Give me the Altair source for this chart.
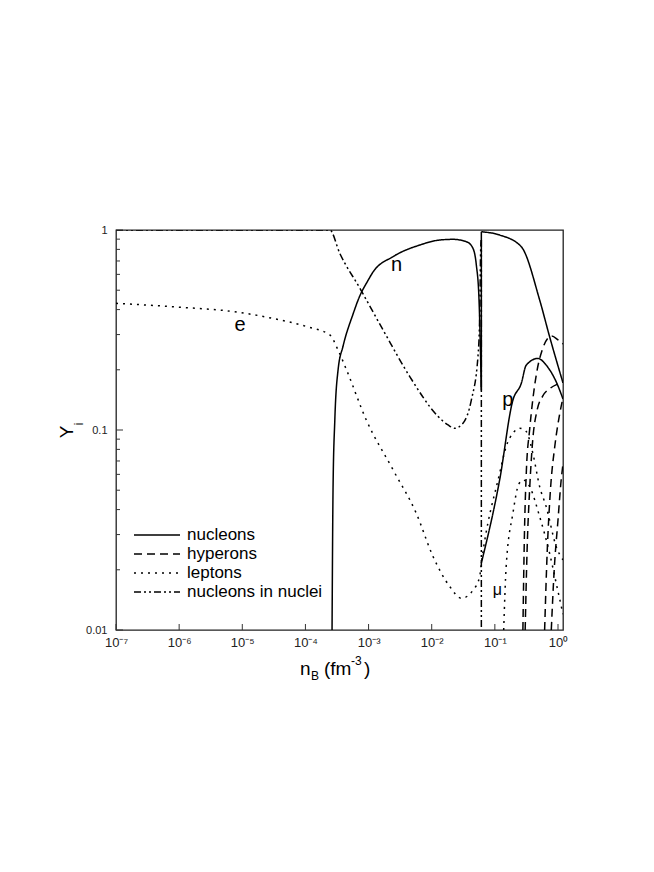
import altair as alt
import pandas as pd

# ---------------- data ----------------
# nucleons: neutrons (n, two branches) and protons (p)
n1_x = [2.64e-4, 2.74e-4, 2.92e-4, 3.29e-4, 3.95e-4, 5.68e-4, 7.26e-4, 9.5e-4, 1.18e-3, 2.44e-3,
        6.46e-3, 0.0134, 0.0217, 0.0354, 0.045, 0.0509, 0.056, 0.0611]
n1_y = [0.010, 0.0521, 0.112, 0.200, 0.263, 0.380, 0.468, 0.550, 0.617, 0.736,
        0.841, 0.891, 0.898, 0.874, 0.810, 0.668, 0.456, 0.158]
njump_x = [0.0611, 0.0611]
njump_y = [0.158, 0.980]
n2_x = [0.0611, 0.119, 0.262, 0.512, 0.736, 1.2]
n2_y = [0.980, 0.944, 0.825, 0.447, 0.293, 0.172]
p_x = [0.0611, 0.119, 0.193, 0.262, 0.314, 0.481, 0.650, 0.938, 1.2]
p_y = [0.0216, 0.0562, 0.141, 0.171, 0.211, 0.228, 0.211, 0.174, 0.143]

# hyperons
h1_x = [0.278, 0.295, 0.316, 0.355, 0.398, 0.468, 0.562, 0.692, 0.794, 1.0, 1.2]
h1_y = [0.010, 0.0316, 0.0631, 0.100, 0.141, 0.200, 0.251, 0.288, 0.295, 0.282, 0.269]
h2_x = [0.302, 0.324, 0.355, 0.398, 0.468, 0.575, 0.759, 1.0, 1.2]
h2_y = [0.010, 0.0251, 0.0501, 0.0891, 0.126, 0.148, 0.162, 0.170, 0.174]
h3_x = [0.614, 0.676, 0.759, 0.891, 1.047, 1.2]
h3_y = [0.010, 0.0251, 0.0501, 0.0832, 0.117, 0.145]
h4_x = [0.783, 0.871, 1.0, 1.122, 1.2]
h4_y = [0.010, 0.020, 0.0355, 0.0562, 0.0676]

# leptons: electrons (e) and muons (mu)
e_x = [1e-7, 1.16e-6, 7.18e-6, 3.09e-5, 1.04e-4, 2.43e-4, 3.29e-4, 4.47e-4, 9.23e-4,
       2.45e-3, 5.7e-3, 0.0105, 0.0193, 0.0295, 0.045, 0.0575, 0.0611, 0.119,
       0.151, 0.200, 0.247, 0.314, 0.400, 0.512, 0.650, 0.938, 1.2]
e_y = [0.430, 0.410, 0.391, 0.361, 0.329, 0.299, 0.251, 0.200, 0.112,
       0.0631, 0.0383, 0.0233, 0.0165, 0.0144, 0.0158, 0.0185, 0.0215, 0.0607,
       0.0826, 0.0977, 0.102, 0.0982, 0.0764, 0.0521, 0.0414, 0.0261, 0.0224]
mu_x = [0.138, 0.151, 0.193, 0.240, 0.282, 0.356, 0.512, 0.736, 0.938, 1.2]
mu_y = [0.010, 0.0207, 0.0383, 0.0537, 0.0562, 0.0521, 0.0369, 0.0242, 0.0171, 0.012]

# nucleons in nuclei
nuc_x = [1e-7, 2.43e-4, 3.5e-4, 7.24e-4, 1.7e-3, 4.49e-3, 0.0126, 0.0181, 0.0231,
         0.0313, 0.0424, 0.054, 0.0575, 0.0596, 0.0611]
nuc_y = [1.0, 1.0, 0.764, 0.513, 0.316, 0.185, 0.117, 0.106, 0.102,
         0.108, 0.141, 0.233, 0.369, 0.794, 0.891]
nucdrop_x = [0.0611, 0.0611]
nucdrop_y = [0.891, 0.003]

kinds = ["nucleons", "hyperons", "leptons", "nucleons in nuclei"]
dashes = [[1, 0], [8, 5], [2, 5], [7, 3, 2, 3, 2, 3]]

curves = [
    ("n1", "nucleons", n1_x, n1_y), ("njump", "nucleons", njump_x, njump_y),
    ("n2", "nucleons", n2_x, n2_y), ("p", "nucleons", p_x, p_y),
    ("h1", "hyperons", h1_x, h1_y), ("h2", "hyperons", h2_x, h2_y),
    ("h3", "hyperons", h3_x, h3_y), ("h4", "hyperons", h4_x, h4_y),
    ("e", "leptons", e_x, e_y), ("mu", "leptons", mu_x, mu_y),
    ("nuc", "nucleons in nuclei", nuc_x, nuc_y),
    ("nucdrop", "nucleons in nuclei", nucdrop_x, nucdrop_y),
]

# curve labels
lab_text = ["n", "e", "p", "\u03bc"]
lab_x = [0.00277, 9.2e-6, 0.161, 0.110]
lab_y = [0.668, 0.335, 0.141, 0.0158]
lab_size = [20, 20, 20, 16]

x_ticks = [1e-7, 1e-6, 1e-5, 1e-4, 1e-3, 1e-2, 1e-1, 1e0]
y_major = [0.01, 0.1, 1.0]
y_minor = [0.02, 0.03, 0.04, 0.05, 0.06, 0.07, 0.08, 0.09,
           0.2, 0.3, 0.4, 0.5, 0.6, 0.7, 0.8, 0.9]

# ---------------- build chart ----------------
rows = []
for cid, kind, xs, ys in curves:
    for i, (xv, yv) in enumerate(zip(xs, ys)):
        rows.append({"curve": cid, "kind": kind, "nB": xv, "Y": yv, "idx": i})
df = pd.DataFrame(rows)

W, H = 447, 400
FONT = "Liberation Sans"
xscale = alt.Scale(type="log", domain=[1e-7, 1.2], nice=False)
yscale = alt.Scale(type="log", domain=[0.01, 1.0], nice=False)

x_label_expr = (
    "datum.value < 5e-7 ? '10\u207b\u2077' : datum.value < 5e-6 ? '10\u207b\u2076' : "
    "datum.value < 5e-5 ? '10\u207b\u2075' : datum.value < 5e-4 ? '10\u207b\u2074' : "
    "datum.value < 5e-3 ? '10\u207b\u00b3' : datum.value < 5e-2 ? '10\u207b\u00b2' : "
    "datum.value < 5e-1 ? '10\u207b\u00b9' : '10\u2070'"
)
y_label_expr = "datum.value > 0.5 ? '1' : datum.value > 0.05 ? '0.1' : '0.01'"

x_axis = alt.Axis(values=x_ticks, labelExpr=x_label_expr, ticks=False, tickSize=0,
                  domain=False, grid=False, labelFontSize=13, labelFont=FONT,
                  labelColor="#222", labelPadding=6, labelOverlap=False, labelFlush=False)
y_axis = alt.Axis(values=y_major, labelExpr=y_label_expr, ticks=False, tickSize=0,
                  domain=False, grid=False, labelFontSize=11, labelFont=FONT,
                  labelColor="#222", labelPadding=9, labelOverlap=False, labelFlush=False)

lines = alt.Chart(df).mark_line(clip=True, strokeWidth=1.5, color="black",
                                interpolate="monotone").encode(
    x=alt.X("nB:Q", scale=xscale, title=None, axis=x_axis),
    y=alt.Y("Y:Q", scale=yscale, title=None, axis=y_axis),
    detail="curve:N",
    order="idx:Q",
    strokeDash=alt.StrokeDash("kind:N", scale=alt.Scale(domain=kinds, range=dashes), legend=None),
)

xt = alt.Chart(pd.DataFrame({"nB": x_ticks})).mark_rule(color="#333", strokeWidth=1).encode(
    x=alt.X("nB:Q", scale=xscale, title=None, axis=x_axis), y=alt.value(H), y2=alt.value(H - 6))
ytM = alt.Chart(pd.DataFrame({"Y": y_major})).mark_rule(color="#333", strokeWidth=1).encode(
    y=alt.Y("Y:Q", scale=yscale, title=None, axis=y_axis), x=alt.value(0), x2=alt.value(7))
ytm = alt.Chart(pd.DataFrame({"Y": y_minor})).mark_rule(color="#333", strokeWidth=1).encode(
    y=alt.Y("Y:Q", scale=yscale, title=None, axis=y_axis), x=alt.value(0), x2=alt.value(4))

labs = alt.Chart(pd.DataFrame({"t": lab_text, "nB": lab_x, "Y": lab_y, "s": lab_size})).mark_text(
    font=FONT, color="black", baseline="middle", align="center").encode(
    x=alt.X("nB:Q", scale=xscale, title=None, axis=x_axis),
    y=alt.Y("Y:Q", scale=yscale, title=None, axis=y_axis),
    text="t:N", size=alt.Size("s:Q", scale=None, legend=None))

one = pd.DataFrame({"a": [0]})

def txt(s, x, y, size, angle=0, align="left", baseline="alphabetic"):
    kw = dict(font=FONT, fontSize=size, color="black", align=align, baseline=baseline)
    if angle:
        kw["angle"] = angle
    return alt.Chart(one).mark_text(**kw).encode(
        x=alt.value(x), y=alt.value(y), text=alt.value(s))

# axis titles (plot origin is at page pixel (116, 230))
titles = [
    txt("n", 300 - 116, 675 - 230, 19),
    txt("B", 311 - 116, 680 - 230, 12),
    txt("(fm", 324 - 116, 675 - 230, 19),
    txt("-3", 351 - 116, 665 - 230, 12),
    txt(")", 364 - 116, 675 - 230, 19),
    txt("Y", 73 - 116, 432 - 230, 19, angle=270, align="center"),
    txt("i", 83 - 116, 424 - 230, 12, angle=270, align="center"),
]

# legend (inside lower-left)
legend_layers = []
for k, (lab, dsh) in enumerate(zip(kinds, dashes)):
    yy = 535 - 230 + k * 19
    legend_layers.append(
        alt.Chart(one).mark_rule(color="black", strokeWidth=1.5, strokeDash=dsh).encode(
            x=alt.value(134 - 116), x2=alt.value(180 - 116), y=alt.value(yy)))
    legend_layers.append(txt(lab, 187 - 116, yy, 17, baseline="middle"))

chart = alt.layer(lines, xt, ytM, ytm, labs, *titles, *legend_layers).properties(
    width=W, height=H,
    padding={"left": 108, "top": 222, "right": 40, "bottom": 80},
    autosize=alt.AutoSizeParams(type="none"),
).configure_view(stroke="#222", strokeWidth=1.3)

chart.save("out.html", embed_options={"renderer": "svg", "actions": False})
